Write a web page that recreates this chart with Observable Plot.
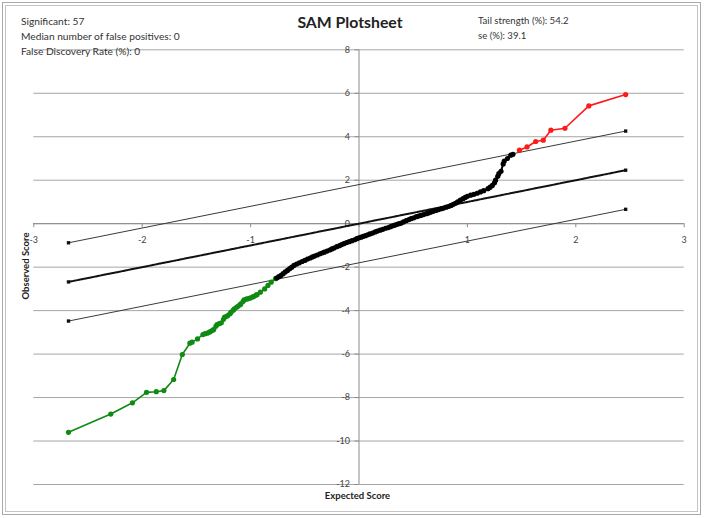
<!DOCTYPE html>
<html><head><meta charset="utf-8">
<script src="https://cdn.jsdelivr.net/npm/d3@7"></script>
<script src="https://cdn.jsdelivr.net/npm/@observablehq/plot@0.6"></script>
<style>
body{margin:0;background:#fff;}
#wrap{position:relative;width:705px;height:518px;overflow:hidden;font-family:Lato,"Open Sans",sans-serif;color:#333;background:#fff;}
#wrap svg{position:absolute;left:0;top:0;}
.bd{position:absolute;box-sizing:border-box;border:1px solid #a9a9a9;pointer-events:none;}
.t{position:absolute;white-space:nowrap;line-height:12px;font-size:10.2px;color:#333;}
.title{position:absolute;white-space:nowrap;font-weight:bold;font-size:15.8px;line-height:16px;color:#222;transform:translateX(-50%);}
.ax{position:absolute;white-space:nowrap;font-weight:bold;font-size:9.5px;color:#222;}
</style></head>
<body>
<div id="wrap">
  <div class="bd" style="left:2px;top:2px;width:699px;height:513px;"></div>
  <div class="bd" style="left:5px;top:5px;width:693px;height:507px;border-color:#c4c4c4;"></div>
  <div class="t" style="left:21px;top:15px;">Significant: 57</div>
  <div class="t" style="left:21px;top:30px;">Median number of false positives: 0</div>
  <div class="t" style="left:21px;top:45px;">False Discovery Rate (%): 0</div>
  <div class="title" style="left:350px;top:14px;">SAM Plotsheet</div>
  <div class="t" style="left:478px;top:14.5px;font-size:9.6px;">Tail strength (%): 54.2</div>
  <div class="t" style="left:478px;top:29.5px;font-size:9.6px;">se (%): 39.1</div>
  <div class="ax" style="left:25px;top:266px;transform:translate(-50%,-50%) rotate(-90deg);">Observed Score</div>
  <div class="ax" style="left:357.5px;top:495px;transform:translate(-50%,-50%);">Expected Score</div>
</div>
<script>
// Axis ticks
const xTicks = [-3, -2, -1, 0, 1, 2, 3];
const xTickLabels = ["-3", "-2", "-1", "", "1", "2", "3"];
const yTicks = [8, 6, 4, 2, 0, -2, -4, -6, -8, -10, -12];

// Significant negative genes (green)
const greenX = [-2.68,-2.29,-2.09,-1.96,-1.87,-1.80,-1.71,-1.63,-1.56,-1.54,-1.49,-1.44,-1.42,-1.40,-1.38,-1.37,-1.35,-1.34,-1.32,-1.31,-1.29,-1.27,-1.25,-1.24,-1.22,-1.21,-1.19,-1.18,-1.16,-1.15,-1.13,-1.12,-1.10,-1.09,-1.07,-1.06,-1.04,-1.03,-1.01,-1.00,-0.98,-0.97,-0.95,-0.94,-0.91,-0.87,-0.84,-0.81,-0.77];
const greenY = [-9.60,-8.76,-8.24,-7.76,-7.73,-7.68,-7.17,-6.02,-5.50,-5.45,-5.30,-5.10,-5.06,-5.04,-4.99,-4.96,-4.90,-4.87,-4.72,-4.64,-4.60,-4.56,-4.40,-4.30,-4.26,-4.23,-4.14,-4.07,-3.98,-3.92,-3.85,-3.81,-3.74,-3.69,-3.58,-3.50,-3.47,-3.46,-3.43,-3.41,-3.37,-3.35,-3.29,-3.26,-3.15,-3.00,-2.84,-2.69,-2.53];

// Non-significant genes (black)
const blackX = [-0.76,-0.74,-0.72,-0.70,-0.68,-0.66,-0.64,-0.62,-0.60,-0.575,-0.55,-0.525,-0.50,-0.475,-0.45,-0.43,-0.41,-0.385,-0.36,-0.34,-0.32,-0.295,-0.27,-0.25,-0.23,-0.205,-0.18,-0.16,-0.14,-0.115,-0.09,-0.065,-0.04,-0.02,0.00,0.02,0.04,0.06,0.08,0.10,0.125,0.15,0.17,0.195,0.22,0.245,0.27,0.29,0.31,0.33,0.35,0.37,0.39,0.41,0.435,0.46,0.48,0.505,0.53,0.55,0.57,0.595,0.62,0.64,0.66,0.685,0.71,0.735,0.76,0.78,0.805,0.83,0.85,0.87,0.89,0.91,0.935,0.96,0.98,1.00,1.03,1.06,1.09,1.12,1.15,1.19,1.21,1.23,1.25,1.26,1.28,1.29,1.31,1.33,1.34,1.37,1.40,1.42];
const blackY = [-2.50,-2.44,-2.38,-2.30,-2.22,-2.15,-2.07,-2.00,-1.92,-1.86,-1.80,-1.74,-1.69,-1.63,-1.58,-1.53,-1.49,-1.44,-1.39,-1.35,-1.31,-1.26,-1.21,-1.16,-1.12,-1.06,-1.01,-0.96,-0.92,-0.87,-0.83,-0.78,-0.74,-0.69,-0.65,-0.62,-0.58,-0.55,-0.51,-0.47,-0.43,-0.38,-0.34,-0.30,-0.26,-0.21,-0.18,-0.14,-0.10,-0.07,-0.03,0.00,0.03,0.08,0.14,0.19,0.23,0.27,0.32,0.35,0.38,0.42,0.46,0.49,0.53,0.57,0.61,0.65,0.69,0.72,0.76,0.80,0.84,0.89,0.94,1.00,1.08,1.15,1.21,1.26,1.31,1.35,1.40,1.46,1.52,1.61,1.68,1.76,1.88,2.00,2.18,2.30,2.41,2.75,2.88,3.00,3.15,3.19];

// Significant positive genes (red)
const redX = [1.48,1.55,1.63,1.70,1.77,1.90,2.12,2.46];
const redY = [3.38,3.53,3.78,3.84,4.30,4.39,5.42,5.94];

// Reference lines (delta band) endpoints
const refX = [-2.68, 2.46];
const upperY = [-0.88, 4.26];
const centerY = [-2.68, 2.46];
const lowerY = [-4.48, 0.66];

const toPts = (xs, ys) => xs.map((x, i) => ({x, y: ys[i]}));
const green = toPts(greenX, greenY);
const black = toPts(blackX, blackY);
const red = toPts(redX, redY);
const upper = toPts(refX, upperY);
const center = toPts(refX, centerY);
const lower = toPts(refX, lowerY);

const GREEN = "#0f8a12", RED = "#ff1a1a";

const chart = Plot.plot({
  width: 705, height: 518,
  marginLeft: 33.3, marginRight: 21.3, marginTop: 49.3, marginBottom: 34,
  x: {domain: [-3, 3], axis: null},
  y: {domain: [-12, 8], axis: null},
  style: {background: "transparent", fontFamily: "Lato, 'Open Sans', sans-serif", fontSize: "9px", color: "#333", overflow: "visible"},
  marks: [
    Plot.ruleY(yTicks, {y: d => d, x1: -3, x2: 3, stroke: "#a6a6a6", strokeWidth: 1}),
    Plot.ruleX([0], {x: d => d, y1: -12, y2: 8, stroke: "#8c8c8c", strokeWidth: 1}),
    Plot.ruleY([0], {y: d => d, x1: -3, x2: 3, stroke: "#8c8c8c", strokeWidth: 1}),
    Plot.ruleX(xTicks, {x: d => d, y1: 0, y2: 0, insetBottom: -4, stroke: "#8c8c8c"}),
    Plot.ruleY(yTicks, {y: d => d, x1: 0, x2: 0, insetLeft: -4, stroke: "#8c8c8c"}),
    Plot.text(xTicks, {x: d => d, y: 0, dy: 16, text: (d, i) => xTickLabels[i], fill: "#444"}),
    Plot.text(yTicks, {x: 0, y: d => d, dx: -9, textAnchor: "end", text: d => String(d), fill: "#444"}),
    Plot.line(upper, {x: "x", y: "y", stroke: "#3a3a3a", strokeWidth: 1}),
    Plot.line(lower, {x: "x", y: "y", stroke: "#3a3a3a", strokeWidth: 1}),
    Plot.line(center, {x: "x", y: "y", stroke: "#111", strokeWidth: 2, strokeDasharray: "3,1"}),
    Plot.dot([...upper, ...center, ...lower], {x: "x", y: "y", symbol: "square", r: 1.9, fill: "#111"}),
    Plot.line(green, {x: "x", y: "y", stroke: GREEN, strokeWidth: 1.6}),
    Plot.dot(green, {x: "x", y: "y", r: 2.6, fill: GREEN}),
    Plot.line(black, {x: "x", y: "y", stroke: "#000", strokeWidth: 2}),
    Plot.dot(black, {x: "x", y: "y", r: 2.6, fill: "#000"}),
    Plot.line(red, {x: "x", y: "y", stroke: RED, strokeWidth: 1.6}),
    Plot.dot(red, {x: "x", y: "y", r: 2.6, fill: RED})
  ]
});
document.getElementById("wrap").prepend(chart);
</script>
</body></html>
